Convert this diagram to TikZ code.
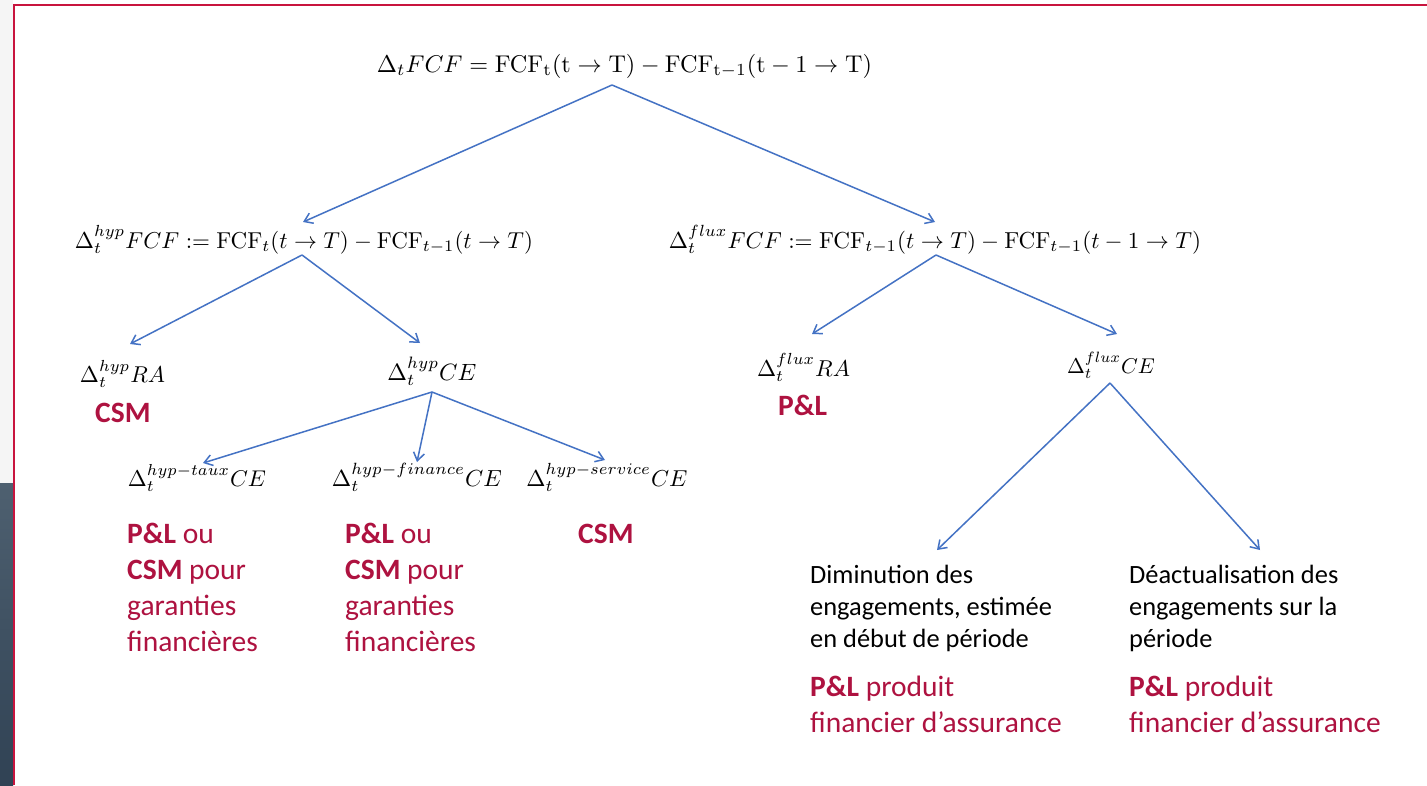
\documentclass[tikz,border=0pt]{standalone}
\usepackage[no-math]{fontspec}
\setmainfont{Carlito}
\usepackage{graphicx}
\usetikzlibrary{arrows.meta,calc}
\definecolor{crimson}{RGB}{174,18,64}
\definecolor{framered}{RGB}{200,20,62}
\definecolor{arrowblue}{RGB}{68,114,196}
\definecolor{slatetop}{RGB}{78,96,112}
\definecolor{slatebot}{RGB}{48,66,84}
% formula set to a given width
\newcommand{\fw}[2]{\resizebox{#1pt}{!}{$#2$}}
\tikzset{
  formula/.style={inner sep=0pt, anchor=base},
  link/.style={draw=arrowblue, line width=1.5pt, -{Straight Barb[length=8pt,width=11pt]}},
  redtxt/.style={text=crimson, font=\fontsize{29.5}{36}\selectfont, align=left, inner sep=0pt, anchor=base west},
  blacktxt/.style={text=black, font=\fontsize{26.4}{32}\selectfont, align=left, inner sep=0pt, anchor=base west},
}
\begin{document}
\begin{tikzpicture}[x=1pt,y=-1pt]
\useasboundingbox (0,0) rectangle (1427,785);
% slide edge and frame
\fill[white] (0,0) rectangle (1427,785);
\fill[gray!8] (0,0) rectangle (13,483);
\shade[top color=slatetop, bottom color=slatebot] (0,483) rectangle (13,785);
\draw[framered, line width=2.4pt] (14,785) -- (14,5) -- (1427,5);

% formulas (anchored on their baseline)
\node[formula] (top)  at (624.5,72) {\fw{495}{\Delta_t FCF = \mathrm{FCF_t(t \rightarrow T) - FCF_{t-1}(t-1 \rightarrow T)}}};
\node[formula] (hyp)  at (304,248)  {\fw{458}{\Delta_t^{hyp} FCF := \mathrm{FCF}_t(t\rightarrow T) - \mathrm{FCF}_{t-1}(t\rightarrow T)}};
\node[formula] (flux) at (935,248)  {\fw{532}{\Delta_t^{flux} FCF := \mathrm{FCF}_{t-1}(t\rightarrow T) - \mathrm{FCF}_{t-1}(t-1\rightarrow T)}};
\node[formula] (hRA)  at (122.5,382) {\fw{85}{\Delta_t^{hyp} RA}};
\node[formula] (hCE)  at (432,380)  {\fw{89}{\Delta_t^{hyp} CE}};
\node[formula] (fRA)  at (803.5,376) {\fw{93}{\Delta_t^{flux} RA}};
\node[formula] (fCE)  at (1111,373) {\fw{88}{\Delta_t^{flux} CE}};
\node[formula] (taux) at (197,486)  {\fw{138}{\Delta_t^{hyp-taux} CE}};
\node[formula] (fin)  at (417,486)  {\fw{170}{\Delta_t^{hyp-finance} CE}};
\node[formula] (serv) at (607,486)  {\fw{161}{\Delta_t^{hyp-service} CE}};

% accounting destinations (anchored on the baseline of the last line)
\node[redtxt] (hRAd) at (95,422) {\textbf{CSM}};
\node[redtxt] (fRAd) at (778,415) {\textbf{P\&L}};
\node[redtxt] (tauxd) at (127,651) {\textbf{P\&L} ou\\\textbf{CSM} pour\\garanties\\financières};
\node[redtxt] (find) at (345,651) {\textbf{P\&L} ou\\\textbf{CSM} pour\\garanties\\financières};
\node[redtxt] (servd) at (578,543) {\textbf{CSM}};
\node[blacktxt] (dimi) at (810,647) {Diminution des\\engagements, estimée\\en début de période};
\node[blacktxt] (deact) at (1129,647) {Déactualisation des\\engagements sur la\\période};
\node[redtxt] (dimid) at (810,732) {\textbf{P\&L} produit\\financier d’assurance};
\node[redtxt] (deactd) at (1129,732) {\textbf{P\&L} produit\\financier d’assurance};

% decomposition arrows
\draw[link] ($(top.base)+(-12.5,13)$) -- ($(hyp.base)+(-1,-26)$);
\draw[link] ($(top.base)+(-12.5,13)$) -- ($(flux.base)+(0,-26)$);
\draw[link] ($(hyp.base)+(-2,7)$) -- ($(hRA.base)+(7.5,-38)$);
\draw[link] ($(hyp.base)+(-2,7)$) -- ($(hCE.base)+(-12,-37)$);
\draw[link] ($(flux.base)+(1,7)$) -- ($(fRA.base)+(8.5,-42)$);
\draw[link] ($(flux.base)+(1,7)$) -- ($(fCE.base)+(6,-39)$);
\draw[link] ($(hCE.base)+(0,12)$) -- ($(taux.base)+(6,-23)$);
\draw[link] ($(hCE.base)+(0,12)$) -- ($(fin.base)+(0,-24)$);
\draw[link] ($(hCE.base)+(0,12)$) -- ($(serv.base)+(-2,-26)$);
\draw[link] ($(fCE.base)+(-1,10)$) -- ($(dimi.base west)+(127,-97)$);
\draw[link] ($(fCE.base)+(-1,10)$) -- ($(deact.base west)+(131,-97)$);
\end{tikzpicture}
\end{document}
